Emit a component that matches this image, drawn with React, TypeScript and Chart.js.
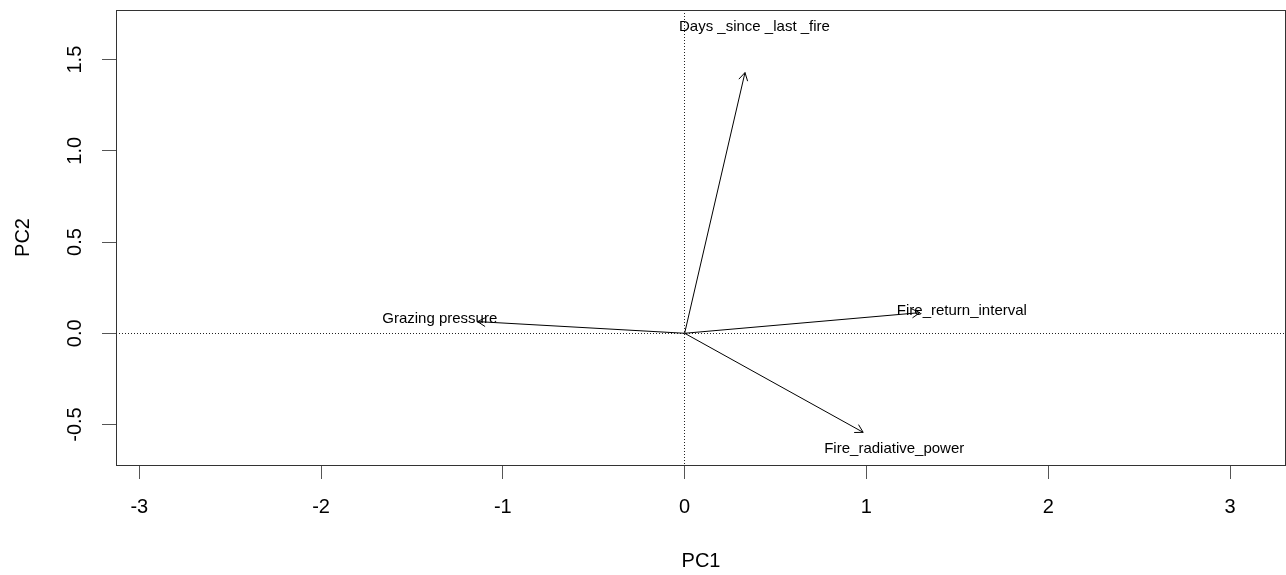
import React, { useEffect, useRef } from "react";
import { Chart, registerables } from "chart.js";

Chart.register(...registerables);

// Variables (loadings) of the biplot
const variables = [
  "Days _since _last _fire",
  "Grazing pressure",
  "Fire_return_interval",
  "Fire_radiative_power",
];
const pc1Loadings = [0.332, -1.139, 1.294, 0.982];
const pc2Loadings = [1.429, 0.064, 0.113, -0.543];

// Where each variable's name is written
const labelPC1 = [0.384, -1.347, 1.525, 1.153];
const labelPC2 = [1.681, 0.077, 0.124, -0.636];

// Axes
const xTickValues = [-3, -2, -1, 0, 1, 2, 3];
const yTickValues = [-0.5, 0, 0.5, 1, 1.5];
const xRange = [-3.128, 3.308];
const yRange = [-0.722, 1.772];
const xTitle = "PC1";
const yTitle = "PC2";

const FONT = "'Liberation Sans', Arial, Helvetica, sans-serif";

const biplotPlugin = {
  id: "biplotExtras",
  beforeDatasetsDraw(chart: any) {
    const { ctx, chartArea } = chart;
    const xs = chart.scales.x;
    const ys = chart.scales.y;
    const x0 = Math.round(xs.getPixelForValue(0)) - 0.5;
    const y0 = Math.round(ys.getPixelForValue(0)) + 0.5;
    ctx.save();
    ctx.strokeStyle = "#222";
    ctx.lineWidth = 1;
    ctx.setLineDash([1, 2]);
    ctx.beginPath();
    ctx.moveTo(x0, chartArea.top);
    ctx.lineTo(x0, chartArea.bottom);
    ctx.moveTo(chartArea.left, y0);
    ctx.lineTo(chartArea.right, y0);
    ctx.stroke();
    ctx.restore();
  },
  afterDatasetsDraw(chart: any) {
    const { ctx } = chart;
    const xs = chart.scales.x;
    const ys = chart.scales.y;
    ctx.save();
    // arrowheads
    ctx.strokeStyle = "#000";
    ctx.lineWidth = 1;
    const headLen = 9;
    const headAng = Math.PI / 6;
    for (let i = 0; i < variables.length; i++) {
      const sx = xs.getPixelForValue(0);
      const sy = ys.getPixelForValue(0);
      const ex = xs.getPixelForValue(pc1Loadings[i]);
      const ey = ys.getPixelForValue(pc2Loadings[i]);
      const a = Math.atan2(ey - sy, ex - sx);
      ctx.beginPath();
      ctx.moveTo(ex - headLen * Math.cos(a - headAng), ey - headLen * Math.sin(a - headAng));
      ctx.lineTo(ex, ey);
      ctx.lineTo(ex - headLen * Math.cos(a + headAng), ey - headLen * Math.sin(a + headAng));
      ctx.stroke();
    }
    // labels
    ctx.fillStyle = "#000";
    ctx.font = `15px ${FONT}`;
    ctx.textAlign = "center";
    ctx.textBaseline = "middle";
    for (let i = 0; i < variables.length; i++) {
      ctx.fillText(variables[i], xs.getPixelForValue(labelPC1[i]), ys.getPixelForValue(labelPC2[i]));
    }
    ctx.restore();
  },
  afterDraw(chart: any) {
    const { ctx, chartArea } = chart;
    ctx.save();
    ctx.strokeStyle = "#333";
    ctx.lineWidth = 1;
    ctx.strokeRect(
      Math.round(chartArea.left) + 0.5,
      Math.round(chartArea.top) + 0.5,
      Math.round(chartArea.right - chartArea.left) - 1,
      Math.round(chartArea.bottom - chartArea.top)
    );
    ctx.restore();
  },
};

export default function App() {
  const canvasRef = useRef<HTMLCanvasElement | null>(null);

  useEffect(() => {
    if (!canvasRef.current) return;
    const datasets = variables.map((name, i) => ({
      label: name,
      data: [
        { x: 0, y: 0 },
        { x: pc1Loadings[i], y: pc2Loadings[i] },
      ],
      showLine: true,
      borderColor: "#000",
      borderWidth: 1,
      pointRadius: 0,
      pointHoverRadius: 0,
      fill: false,
    }));

    const chart = new Chart(canvasRef.current, {
      type: "scatter",
      data: { datasets },
      options: {
        animation: false,
        responsive: false,
        maintainAspectRatio: false,
        devicePixelRatio: 1,
        events: [],
        layout: { padding: { top: 10, right: 0, left: 0, bottom: 0 } },
        plugins: {
          legend: { display: false },
          tooltip: { enabled: false },
        },
        scales: {
          x: {
            type: "linear",
            min: xRange[0],
            max: xRange[1],
            afterBuildTicks: (s: any) => {
              s.ticks = xTickValues.map((v) => ({ value: v }));
            },
            afterFit: (s: any) => {
              s.height = 110;
              s.paddingLeft = 0;
              s.paddingRight = 0;
              s.paddingTop = 0;
              s.paddingBottom = 0;
            },
            ticks: {
              color: "#000",
              font: { family: FONT, size: 20 },
              padding: 16,
              maxRotation: 0,
              minRotation: 0,
              callback: (v: any) => String(v),
            },
            grid: {
              drawOnChartArea: false,
              drawTicks: true,
              tickLength: 14,
              tickColor: "#555",
              color: "#555",
            },
            border: { display: false },
            title: {
              display: true,
              text: xTitle,
              color: "#000",
              font: { family: FONT, size: 20 },
              padding: { top: 0, bottom: 2 },
            },
          },
          y: {
            type: "linear",
            min: yRange[0],
            max: yRange[1],
            afterBuildTicks: (s: any) => {
              s.ticks = yTickValues.map((v) => ({ value: v }));
            },
            afterFit: (s: any) => {
              s.width = 116;
              s.paddingLeft = 0;
              s.paddingRight = 0;
              s.paddingTop = 0;
              s.paddingBottom = 0;
            },
            ticks: {
              color: "#000",
              font: { family: FONT, size: 20 },
              padding: 9,
              minRotation: 90,
              maxRotation: 90,
              crossAlign: "center",
              callback: (v: any) => Number(v).toFixed(1),
            },
            grid: {
              drawOnChartArea: false,
              drawTicks: true,
              tickLength: 14,
              tickColor: "#555",
              color: "#555",
            },
            border: { display: false },
            title: {
              display: true,
              text: yTitle,
              color: "#000",
              font: { family: FONT, size: 20 },
              padding: { top: 11, bottom: 0 },
            },
          },
        },
      },
      plugins: [biplotPlugin],
    });
    return () => chart.destroy();
  }, []);

  return (
    <div style={{ position: "fixed", left: 0, top: 0, width: 1286, height: 575, background: "#fff" }}>
      <canvas ref={canvasRef} width={1286} height={575} style={{ display: "block" }} />
    </div>
  );
}
